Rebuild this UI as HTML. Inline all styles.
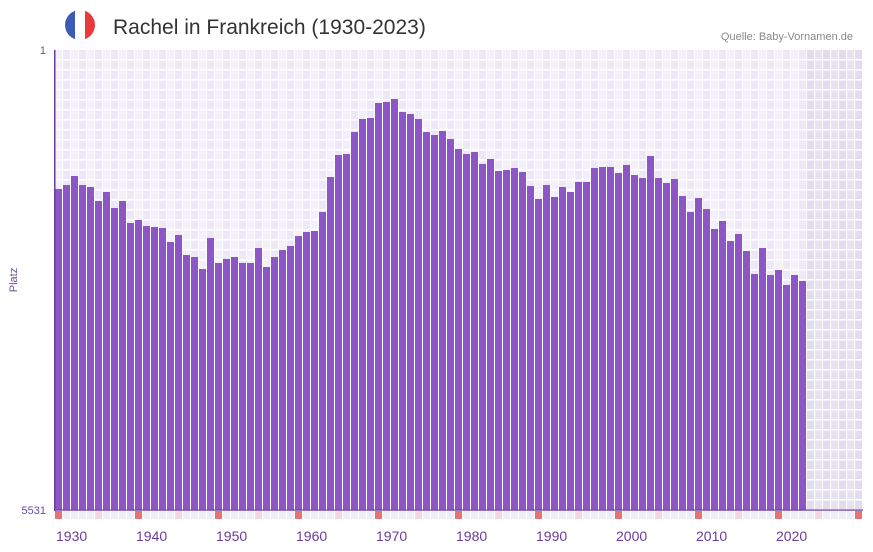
<!DOCTYPE html>
<html><head><meta charset="utf-8"><style>
body{margin:0;background:#fff;width:873px;height:552px;overflow:hidden;font-family:"Liberation Sans",sans-serif}
</style></head><body>
<svg id="s" width="873" height="552" xmlns="http://www.w3.org/2000/svg" style="position:absolute;left:0;top:0">
<defs><clipPath id="c"><circle cx="80" cy="25" r="15"/></clipPath></defs>
<g clip-path="url(#c)"><rect x="65" y="10" width="10" height="30" fill="#3b5bb5"/><rect x="75" y="10" width="10" height="30" fill="#fff"/><rect x="85" y="10" width="10" height="30" fill="#e8393b"/></g>
<text x="113" y="34" font-size="21" fill="#333">Rachel in Frankreich (1930-2023)</text>
<text x="853" y="40" font-size="11" fill="#888" text-anchor="end">Quelle: Baby-Vornamen.de</text>
<text x="46" y="54" font-size="11" fill="#6a4c9c" text-anchor="end">1</text>
<text x="46" y="514" font-size="11" fill="#6a4c9c" text-anchor="end">5531</text>
<text transform="translate(17,280) rotate(-90)" font-size="11" fill="#6a4c9c" text-anchor="middle">Platz</text>
<g id="g"></g>
</svg>
<script>
var tops=[189,185,176,185,187,201,192,208,201,223,220,226,227,228,242,235,255,257,269,238,263,259,257,263,263,248,267,257,250,246,236,232,231,212,177,155,154,132,119,118,103,102,99,112,114,119,132,135,131,139,149,154,152,164,159,171,170,168,172,186,199,185,197,187,192,182,182,168,167,167,173,165,175,178,156,178,183,179,196,212,198,209,229,221,241,234,251,274,248,275,270,285,275,281];
var h='';
for(var i=0;i<101;i++){var x=55+i*8;var sh=i>=94;
 h+='<rect x="'+x+'" y="50" width="7" height="460" fill="'+(sh?(i%2?'#e6e3ef':'#e1ddef'):(i%2?'#ede8f8':'#f3f0fb'))+'"/>';
 var y=1930+i;var c=(y%10==0)?'#e57373':(y%5==0?'#f5d6e0':'#f0ecf8');
 h+='<rect x="'+x+'" y="511" width="7" height="8" fill="'+c+'"/>';
 if(y%10==0&&y<2030)h+='<text x="'+(x+1)+'" y="541" font-size="14" fill="#6a3d9a">'+y+'</text>';}
for(var yy=60;yy<510;yy+=10)h+='<rect x="55" y="'+(yy-1)+'" width="808" height="1.5" fill="#fff"/>';
for(var i=0;i<tops.length;i++)h+='<rect x="'+(55+i*8)+'" y="'+tops[i]+'" width="7" height="'+(510-tops[i])+'" fill="#8e55c6"/>';
h+='<rect x="54" y="50" width="1.5" height="461" fill="#6a3d9a"/><rect x="55" y="509.5" width="808" height="1.2" fill="#6a3d9a"/>';
document.getElementById('g').innerHTML=h;
</script>
</body></html>
